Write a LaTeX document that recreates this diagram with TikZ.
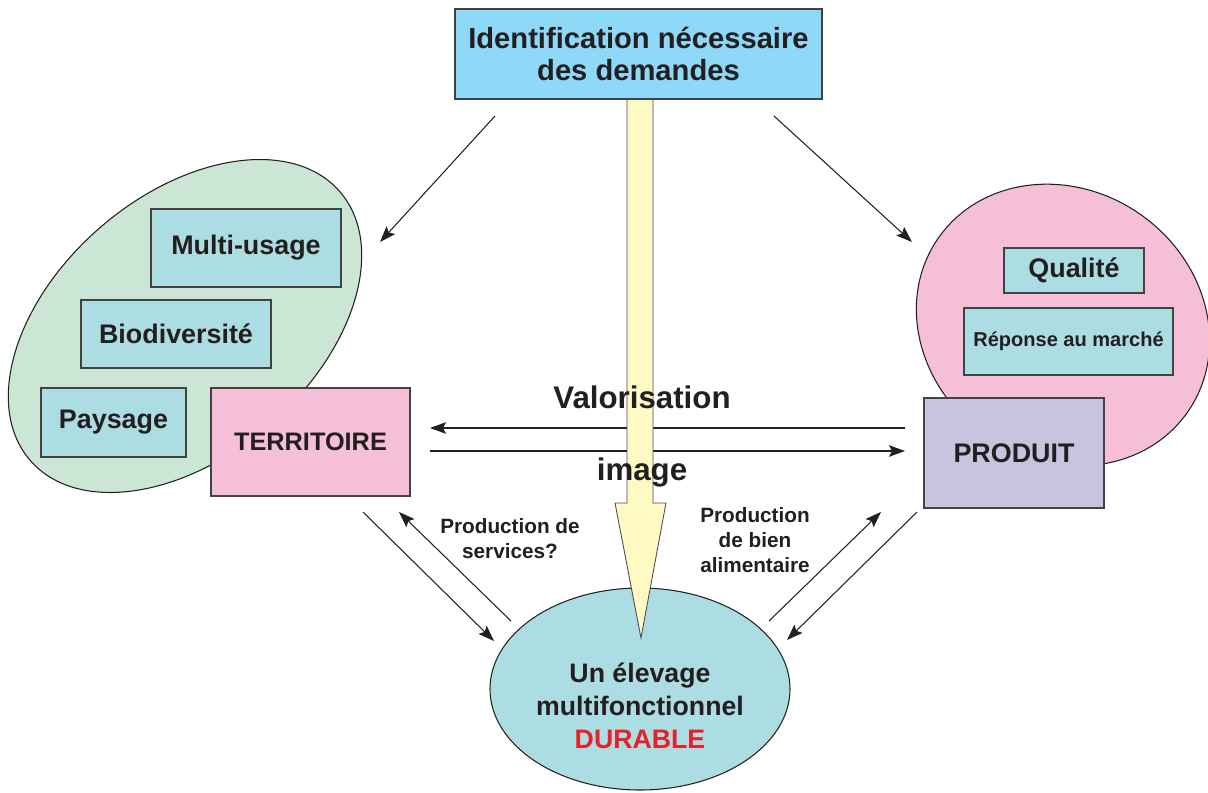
\documentclass[tikz,border=0pt]{standalone}
\usepackage{fontspec}
\setmainfont{Liberation Sans}
\usetikzlibrary{shapes.geometric,arrows.meta}
\definecolor{topblue}{RGB}{142,216,248}
\definecolor{boxcyan}{RGB}{172,221,227}
\definecolor{zonegreen}{RGB}{204,230,213}
\definecolor{zonepink}{RGB}{245,191,216}
\definecolor{lavender}{RGB}{200,196,224}
\definecolor{paleyellow}{RGB}{255,249,196}
\definecolor{durred}{RGB}{232,32,42}
\definecolor{inkc}{RGB}{35,31,32}
\newcommand{\pxu}{0.02cm}
\tikzset{
  boxstyle/.style={draw=inkc!85, line width=0.6pt, rectangle, inner sep=0pt, text=inkc, font=\bfseries\fontsize{15.3}{18}\selectfont, align=center},
  zone/.style={draw=inkc, line width=0.6pt, ellipse, inner sep=0pt},
  conn/.style={draw=inkc, line width=0.6pt, -{Stealth[length=0.32cm,width=0.23cm,inset=0.06cm]}},
  biglabel/.style={text=inkc, font=\bfseries\fontsize{17.8}{20}\selectfont, align=center},
  smalllabel/.style={text=inkc, font=\bfseries\fontsize{11.8}{14.2}\selectfont, align=center}
}
\begin{document}
\begin{tikzpicture}[x=0.02cm,y=-0.02cm]
\useasboundingbox (0,0) rectangle (1208,792);
% zones
\node[zone, fill=zonegreen, minimum width=410*\pxu, minimum height=260*\pxu, rotate=41] (terrzone) at (185,326) {};
\node[zone, fill=zonepink, minimum width=304*\pxu, minimum height=270*\pxu, rotate=-35] (prodzone) at (1063,325) {};
% left boxes
\node[boxstyle, fill=boxcyan, minimum width=190*\pxu, minimum height=78*\pxu] (multi) at (246,248) {Multi-usage};
\node[boxstyle, fill=boxcyan, minimum width=190*\pxu, minimum height=68*\pxu] (bio) at (176,334) {Biodiversité};
\node[boxstyle, fill=boxcyan, minimum width=145*\pxu, minimum height=69*\pxu] (pays) at (113.5,422.5) {Paysage};
\node[boxstyle, fill=zonepink, minimum width=199*\pxu, minimum height=108*\pxu, font=\bfseries\fontsize{14.4}{17}\selectfont] (terr) at (310.5,442) {TERRITOIRE};
% right boxes
\node[boxstyle, fill=boxcyan, minimum width=140*\pxu, minimum height=45*\pxu] (qual) at (1074,270.5) {Qualité};
\node[boxstyle, fill=boxcyan, minimum width=209*\pxu, minimum height=67*\pxu, font=\bfseries\fontsize{11.4}{13}\selectfont] (marche) at (1068.5,341.5) {Réponse au marché};
\node[boxstyle, fill=lavender, minimum width=180*\pxu, minimum height=110*\pxu] (prod) at (1014,453) {PRODUIT};
% bottom ellipse
\node[zone, fill=boxcyan, minimum width=300*\pxu, minimum height=202*\pxu] (elev) at (640,689) {};
\node[text=inkc, font=\bfseries\fontsize{15.2}{18.7}\selectfont, align=center] (elevtxt) at (640,706) {Un élevage\\multifonctionnel\\\textcolor{durred}{DURABLE}};
% connector end points
\coordinate (tl0) at (495,116); \coordinate (tl1) at (380,242);
\coordinate (tr0) at (774,116); \coordinate (tr1) at (912,242);
\coordinate (hv0) at (905,428); \coordinate (hv1) at (430,428);
\coordinate (hi0) at (430,451); \coordinate (hi1) at (905,451);
\coordinate (bl0) at (363,512); \coordinate (bl1) at (494,641);
\coordinate (bl2) at (511,621); \coordinate (bl3) at (399,512);
\coordinate (br0) at (769,621); \coordinate (br1) at (881,512);
\coordinate (br2) at (917,512); \coordinate (br3) at (787,640);
\draw[conn] (tl0) -- (tl1);
\draw[conn] (tr0) -- (tr1);
\draw[conn] (hv0) -- (hv1);
\draw[conn] (hi0) -- (hi1);
\draw[conn] (bl0) -- (bl1);
\draw[conn] (bl2) -- (bl3);
\draw[conn] (br0) -- (br1);
\draw[conn] (br2) -- (br3);
% big yellow arrow
\draw[draw=inkc!80, line width=0.5pt, fill=paleyellow, line join=miter] (627,99) -- (627,503) -- (615,503) -- (641,638) -- (666,503) -- (653,503) -- (653,99) -- cycle;
% top box
\node[boxstyle, fill=topblue, minimum width=367*\pxu, minimum height=90*\pxu, font=\bfseries\fontsize{16.6}{18.7}\selectfont] (ident) at (638.5,54) {Identification nécessaire\\des demandes};
% labels
\node[biglabel] (valo) at (642,397) {Valorisation};
\node[biglabel] (img) at (642,472) {image};
\node[smalllabel] (servlab) at (510,539) {Production de\\services?};
\node[smalllabel] (bienlab) at (755,540) {Production\\de bien\\alimentaire};
\end{tikzpicture}
\end{document}
